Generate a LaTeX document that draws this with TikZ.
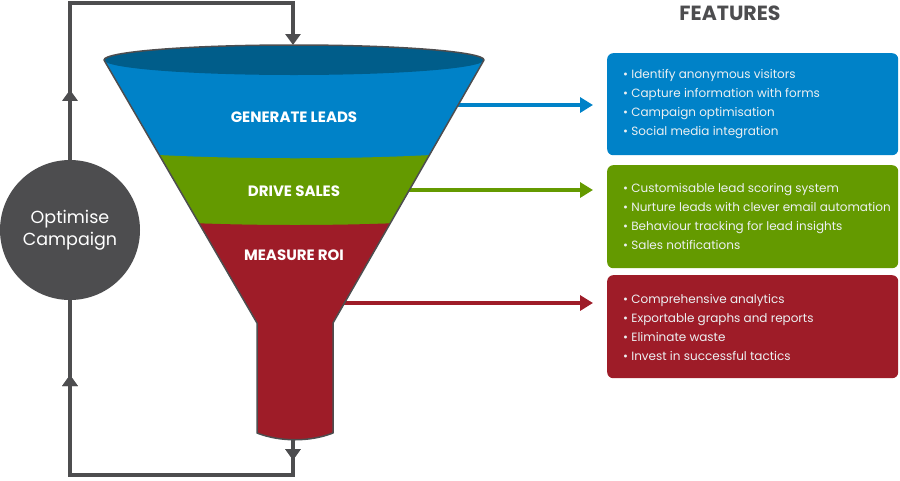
\documentclass[tikz,border=0pt]{standalone}
\usepackage{fontspec}
\setmainfont{Poppins}
\usetikzlibrary{arrows.meta,decorations.markings,positioning}
\definecolor{fblue}{RGB}{0,130,200}
\definecolor{fdarkblue}{RGB}{0,93,138}
\definecolor{fgreen}{RGB}{100,154,0}
\definecolor{fred}{RGB}{158,28,40}
\definecolor{fgray}{RGB}{77,77,79}
\definecolor{boxtext}{RGB}{236,240,242}
\tikzset{
  loopline/.style={draw=fgray,line width=3.5pt},
  midarrow/.style={postaction={decorate},decoration={markings,mark=at position #1 with {\arrow{Triangle[width=15pt,length=11pt]}}}},
  featarrow/.style={line width=4pt,-{Triangle[width=15pt,length=13pt]}},
  featbox/.style={rounded corners=6pt,minimum width=291pt,inner sep=0pt,anchor=north west},
  feattext/.style={text=boxtext,font=\fontsize{12}{19}\selectfont,align=left,anchor=west,inner sep=0pt},
  stagelabel/.style={text=white,font=\fontsize{15}{17}\selectfont\bfseries,inner sep=0pt}
}
\begin{document}
\begin{tikzpicture}[x=1pt,y=-1pt]
\useasboundingbox (0,0) rectangle (900,480);
% feature boxes
\node[featbox,fill=fblue,minimum height=102pt] (bbox) at (607,53) {};
\node[featbox,fill=fgreen,minimum height=103pt] (gbox) at (607,165) {};
\node[featbox,fill=fred,minimum height=103pt] (rbox) at (607,275) {};
\node[feattext] (btext) at (623,104) {• Identify anonymous visitors\\• Capture information with forms\\• Campaign optimisation\\• Social media integration};
\node[feattext] (gtext) at (623,216) {• Customisable lead scoring system\\• Nurture leads with clever email automation\\• Behaviour tracking for lead insights\\• Sales notifications};
\node[feattext] (rtext) at (623,327) {• Comprehensive analytics\\• Exportable graphs and reports\\• Eliminate waste\\• Invest in successful tactics};
\node[text=fgray,font=\fontsize{20.5}{22}\selectfont\bfseries] (feat) at (730,13) {FEATURES};
% coordinates
\coordinate (bstart) at (458,105);
\coordinate (gstart) at (409,190);
\coordinate (rstart) at (344,303);
\coordinate (bend) at ([xshift=-14pt]bbox.west);
\coordinate (gend) at ([xshift=-14pt]gbox.west);
\coordinate (rend) at ([xshift=-14pt]rbox.west);
\draw[featarrow,draw=fblue,fill=fblue] (bstart) -- (bstart -| bend);
\draw[featarrow,draw=fgreen,fill=fgreen] (gstart) -- (gstart -| gend);
\draw[featarrow,draw=fred,fill=fred] (rstart) -- (rstart -| rend);
% funnel
\def\funnelpath{(104,60) -- (257,323) -- (257,433) .. controls (280,442) and (310,442) .. (333,433) -- (333,323) -- (484,60) arc[start angle=0,end angle=180,x radius=190pt,y radius=15pt] -- cycle}
\begin{scope}
\clip \funnelpath;
\fill[fblue] (90,30) rectangle (500,470);
\fill[fgreen] (90,150) .. controls (200,161) and (390,161) .. (500,150) -- (500,470) -- (90,470) -- cycle;
\fill[fred] (90,216) .. controls (200,228) and (390,228) .. (500,216) -- (500,470) -- (90,470) -- cycle;
\end{scope}
\fill[fdarkblue] (294,60) ellipse[x radius=190pt,y radius=15pt];
\draw[fgray,line width=1.5pt,line join=round] \funnelpath;
\coordinate (ftop) at (293,45);
\coordinate (fbot) at (293,440);
\node[stagelabel] (gl) at (294,117) {GENERATE LEADS};
\node[stagelabel] (ds) at (294,191) {DRIVE SALES};
\node[stagelabel] (mr) at (294,255) {MEASURE ROI};
% optimise circle
\node[circle,fill=fgray,minimum size=140pt,inner sep=0pt,text=white,align=center,font=\fontsize{17.5}{22}\selectfont] (opt) at (70,230) {Optimise\\Campaign};
% loop
\draw[loopline,midarrow=70pt,-{Triangle[width=15pt,length=11pt]}] (opt.north) -- (70,3) -- (293,3) -- (ftop);
\draw[loopline,midarrow=20pt,midarrow=358pt] (fbot) -- (293,475) -- (70,475) -- (opt.south);
\end{tikzpicture}
\end{document}
